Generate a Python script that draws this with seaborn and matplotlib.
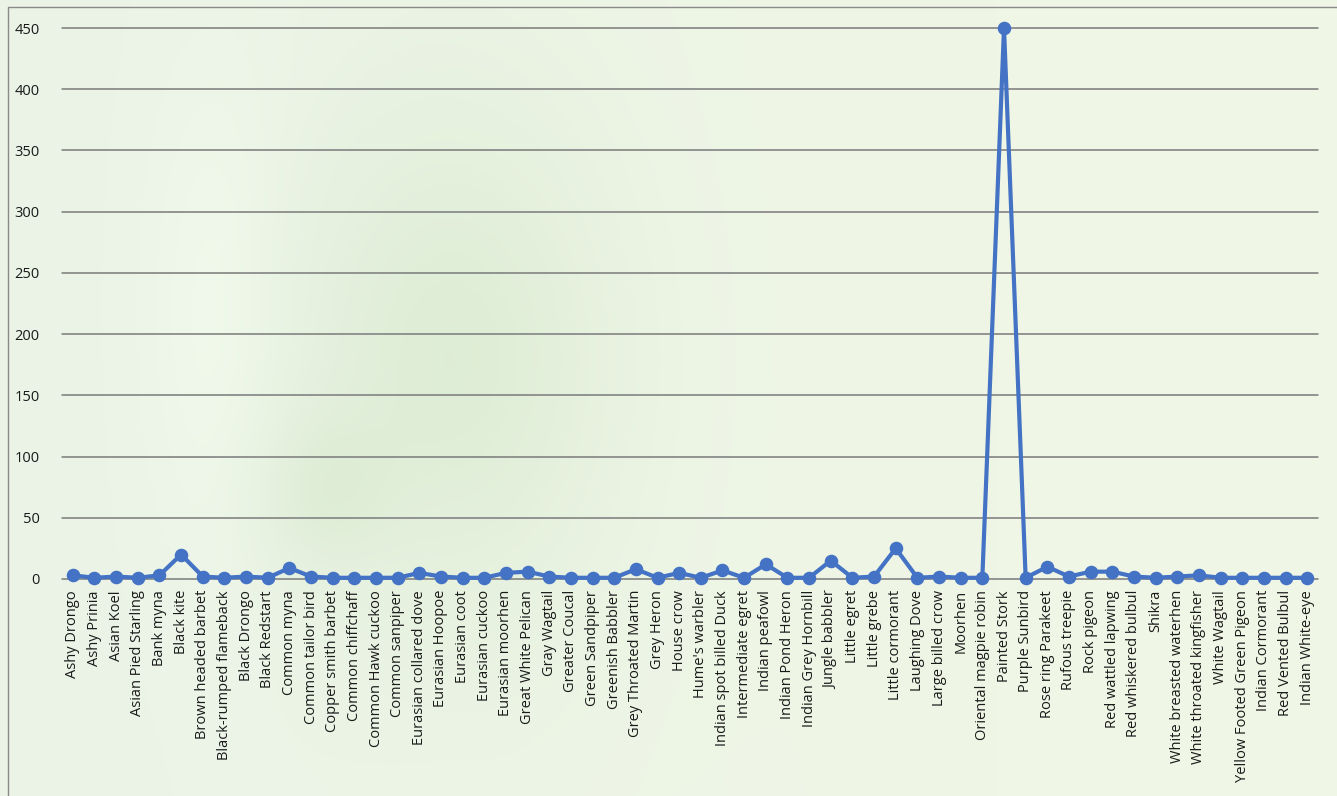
import numpy as np
import pandas as pd
import matplotlib
matplotlib.use("Agg")
import matplotlib.pyplot as plt
from matplotlib.patches import Rectangle
import seaborn as sns

species = [
    "Ashy Drongo", "Ashy Prinia", "Asian Koel", "Asian Pied Starling", "Bank myna",
    "Black kite", "Brown headed barbet", "Black-rumped flameback", "Black Drongo",
    "Black Redstart", "Common myna", "Common tailor bird", "Copper smith barbet",
    "Common chiffchaff", "Common Hawk cuckoo", "Common sanpiper",
    "Eurasian collared dove", "Eurasian Hoopoe", "Eurasian coot", "Eurasian cuckoo",
    "Eurasian moorhen", "Great White Pelican", "Gray Wagtail", "Greater Coucal",
    "Green Sandpiper", "Greenish Babbler", "Grey Throated Martin", "Grey Heron",
    "House crow", "Hume's warbler", "Indian spot billed Duck", "Intermediate egret",
    "Indian peafowl", "Indian Pond Heron", "Indian Grey Hornbill", "Jungle babbler",
    "Little egret", "Little grebe", "Little cormorant", "Laughing Dove",
    "Large billed crow", "Moorhen", "Oriental magpie robin", "Painted Stork",
    "Purple Sunbird", "Rose ring Parakeet", "Rufous treepie", "Rock pigeon",
    "Red wattled lapwing", "Red whiskered bulbul", "Shikra", "White breasted waterhen",
    "White throated kingfisher", "White Wagtail", "Yellow Footed Green Pigeon",
    "Indian Cormorant", "Red Vented Bulbul", "Indian White-eye",
]
counts = [
    3, 1, 2, 1, 3,
    20, 2, 1, 2,
    1, 9, 2, 1,
    1, 1, 1,
    5, 2, 1, 1,
    5, 6, 2, 1,
    1, 1, 8, 1,
    5, 1, 7, 1,
    12, 1, 1, 15,
    1, 2, 25, 1,
    2, 1, 1, 450,
    1, 10, 2, 6,
    6, 2, 1, 2,
    3, 1, 1,
    1, 1, 1,
]
y_ticks = [0, 50, 100, 150, 200, 250, 300, 350, 400, 450]

df = pd.DataFrame({"species": species, "count": counts})

sns.set_theme(style="white")
plt.rcParams["font.family"] = ["Open Sans", "DejaVu Sans"]

W, H, DPI = 1337, 796, 100
fig = plt.figure(figsize=(W / DPI, H / DPI), dpi=DPI)

# soft green wash behind everything
bg = fig.add_axes([0, 0, 1, 1], zorder=-10)
yy, xx = np.mgrid[0:1:200j, 0:1:336j]
left_c = np.array([0.920, 0.955, 0.905])
right_c = np.array([0.945, 0.968, 0.900])
img = left_c[None, None, :] * (1 - xx[..., None]) + right_c[None, None, :] * xx[..., None]
blob = np.exp(-(((xx - 0.34) / 0.12) ** 2 + ((yy - 0.45) / 0.32) ** 2))
blob2 = np.exp(-(((xx - 0.24) / 0.05) ** 2 + ((yy - 0.62) / 0.10) ** 2))
light = np.exp(-(((xx - 0.16) / 0.05) ** 2 + ((yy - 0.40) / 0.30) ** 2))
shade = np.array([0.055, 0.03, 0.065])
img = img - blob[..., None] * shade - 0.6 * blob2[..., None] * shade + 0.02 * light[..., None]
img = np.clip(img, 0, 1)
bg.imshow(img, aspect="auto", extent=[0, 1, 0, 1], interpolation="bicubic")
bg.set_axis_off()

# outer frame
fig.patches.append(Rectangle((8 / W, -0.02), 1.1, 1 - 7 / H + 0.02,
                             transform=fig.transFigure, fill=False,
                             edgecolor="#8a8a8a", linewidth=1.0, zorder=-5))

ax = fig.add_axes([62 / W, 1 - 579 / H, (1318 - 62) / W, (579 - 28) / H])
ax.patch.set_alpha(0)

sns.pointplot(data=df, x="species", y="count", order=species, ax=ax,
              color="#4472C4", errorbar=None, markers="o", linestyles="-",
              markersize=7.5, linewidth=3.0)
for coll in ax.collections:
    coll.set_clip_on(False)
for ln in ax.lines:
    ln.set_clip_on(False)
    ln.set_zorder(5)

ax.set_xlim(-0.5, len(species) - 0.5)
ax.set_ylim(0, 450)
ax.set_yticks(y_ticks)
ax.set_yticklabels([str(v) for v in y_ticks])
ax.yaxis.grid(True, color="#7a7a7a", linewidth=1.1)
for gl in ax.get_ygridlines():
    gl.set_clip_on(False)
ax.xaxis.grid(False)
ax.set_axisbelow(True)
for s in ax.spines.values():
    s.set_visible(False)

ax.set_xlabel("")
ax.set_ylabel("")
ax.tick_params(axis="x", length=0, pad=8, labelsize=10.5, labelcolor="#1a1a1a",
               labelrotation=90)
ax.tick_params(axis="y", length=0, pad=16, labelsize=10.5, labelcolor="#1a1a1a")

fig.savefig("out.png", dpi=DPI)
